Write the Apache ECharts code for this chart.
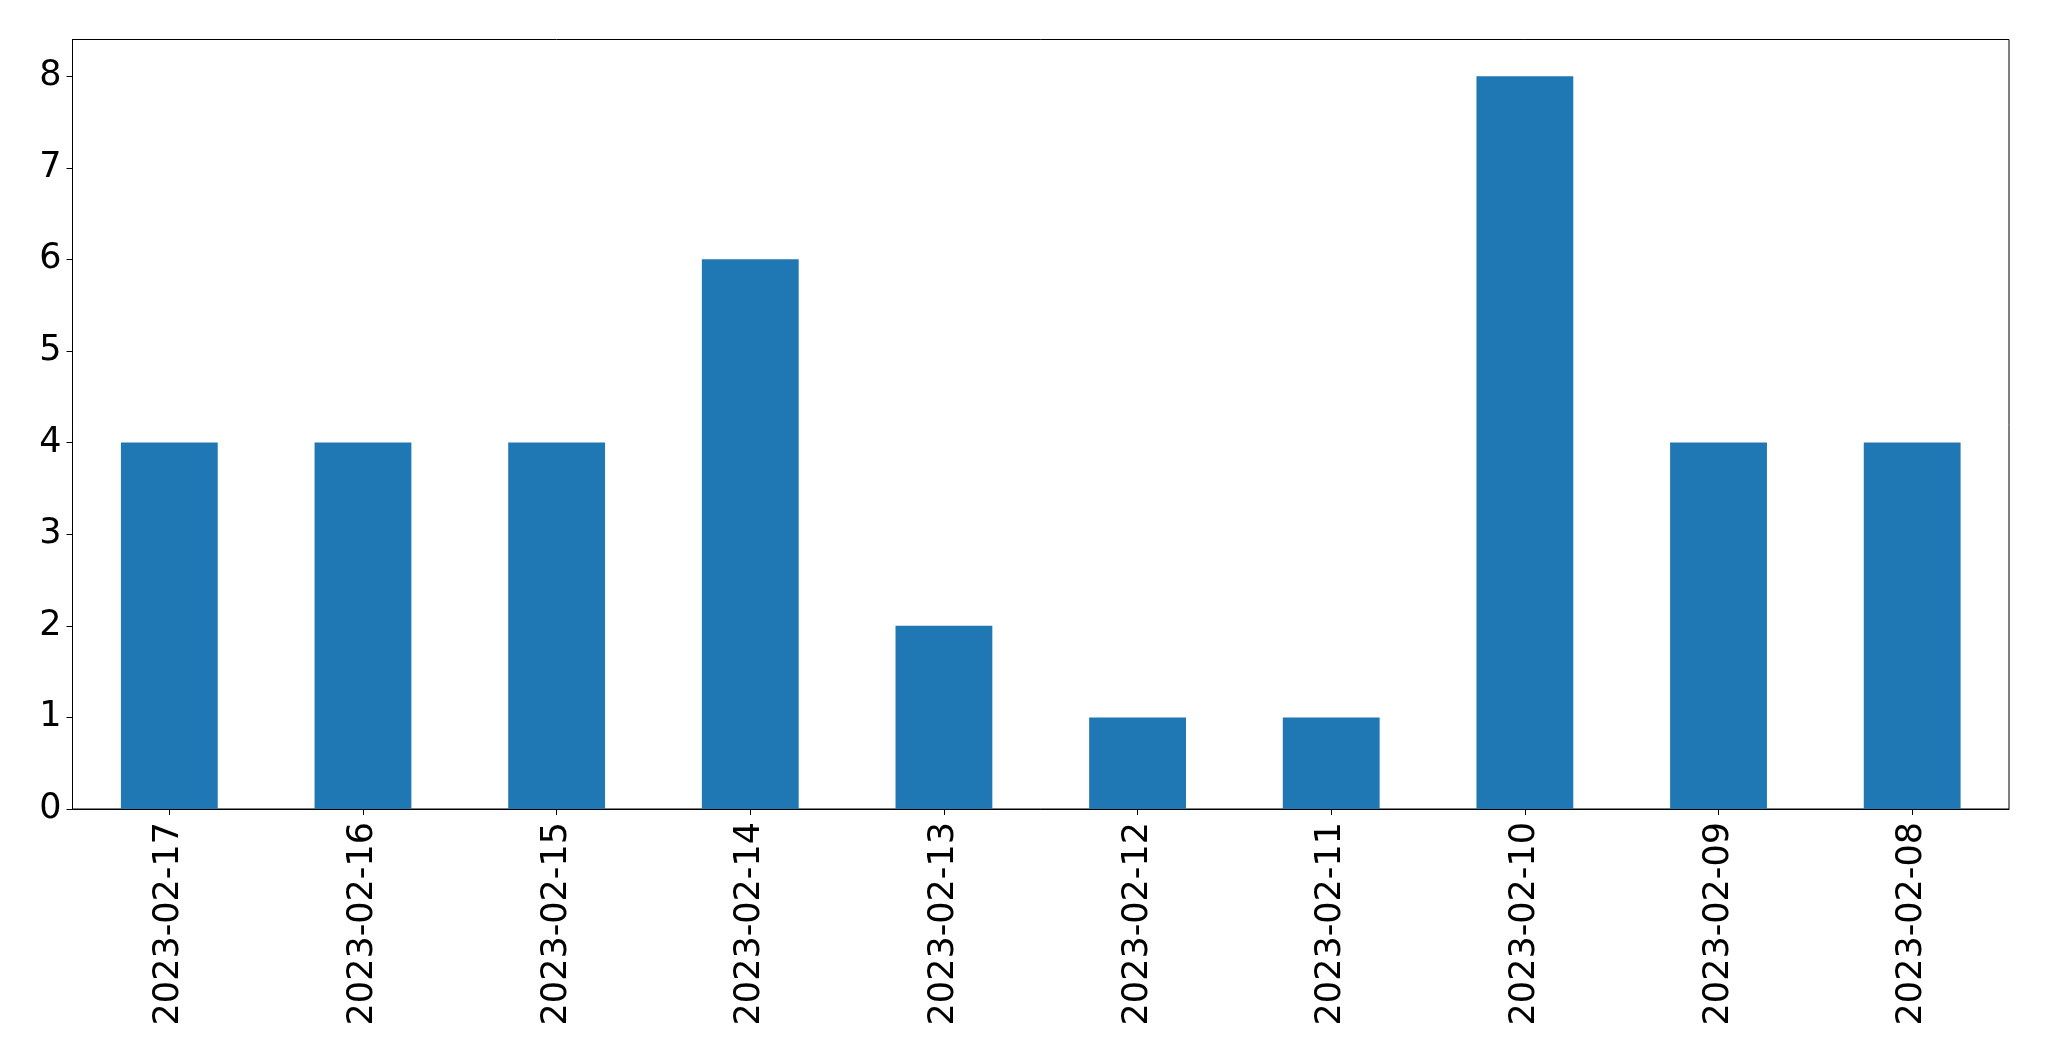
<!DOCTYPE html>
<html>
<head>
<meta charset="utf-8">
<script src="https://cdn.jsdelivr.net/npm/echarts@6/dist/echarts.min.js"></script>
<style>html,body{margin:0;padding:0;background:#fff}#c{width:2049px;height:1061px}</style>
</head>
<body>
<div id="c"></div>
<script>
const categories = ['2023-02-17','2023-02-16','2023-02-15','2023-02-14','2023-02-13','2023-02-12','2023-02-11','2023-02-10','2023-02-09','2023-02-08'];
const values = [4, 4, 4, 6, 2, 1, 1, 8, 4, 4];
const yTicks = [0, 1, 2, 3, 4, 5, 6, 7, 8];

const chart = echarts.init(document.getElementById('c'), null, {renderer: 'canvas'});
const font = 'DejaVu Sans';
chart.setOption({
  animation: false,
  backgroundColor: '#ffffff',
  grid: {left: 72.5, right: 40, top: 39.5, bottom: 252, show: true, borderColor: '#000', borderWidth: 1, backgroundColor: 'transparent'},
  xAxis: {
    type: 'category',
    data: categories,
    boundaryGap: true,
    axisLine: {show: true, lineStyle: {color: '#000', width: 1}},
    axisTick: {show: true, alignWithLabel: true, length: 6, lineStyle: {color: '#000', width: 1}},
    axisLabel: {rotate: 90, fontSize: 35, fontFamily: font, color: '#000', margin: 13, interval: 0},
    splitLine: {show: false}
  },
  yAxis: {
    type: 'value',
    min: 0, max: 8.4, interval: 1,
    axisLine: {show: true, lineStyle: {color: '#000', width: 1}},
    axisTick: {show: true, length: 6, customValues: yTicks, lineStyle: {color: '#000', width: 1}},
    axisLabel: {fontSize: 35, fontFamily: font, color: '#000', margin: 11, customValues: yTicks},
    splitLine: {show: false}
  },
  series: [{
    type: 'bar',
    data: values,
    barWidth: '50%',
    itemStyle: {color: '#1f77b4'}
  }]
});
</script>
</body>
</html>
